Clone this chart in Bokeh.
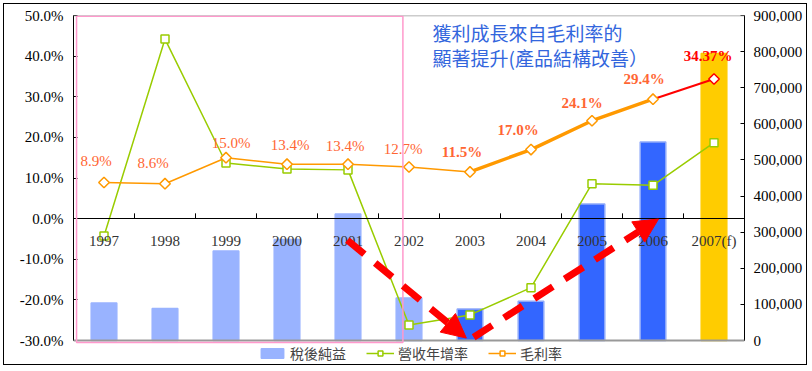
import numpy as np
from bokeh.plotting import figure
from bokeh.models import (FactorRange, Range1d, LinearAxis, FixedTicker, NumeralTickFormatter,
                          PrintfTickFormatter, ColumnDataSource, Legend, LegendItem,
                          BoxAnnotation, Label, Arrow, NormalHead, Span)
from bokeh.transform import dodge
from bokeh.core.properties import value
from bokeh.embed import file_html
from bokeh.resources import INLINE

# ---------------- data ----------------
years = ["1997", "1998", "1999", "2000", "2001", "2002", "2003", "2004", "2005", "2006", "2007(f)"]
net_income = [104000, 88500, 248000, 280000, 350000, 118000, 87000, 109000, 378000, 550000, 795000]
revenue_growth = [-4.3, 44.2, 13.7, 12.2, 12.0, -26.2, -23.7, -17.0, 8.6, 8.2, 18.7]
gross_margin = [8.9, 8.6, 15.0, 13.4, 13.4, 12.7, 11.5, 17.0, 24.1, 29.4, 34.37]
margin_labels = ["8.9%", "8.6%", "15.0%", "13.4%", "13.4%", "12.7%", "11.5%", "17.0%", "24.1%", "29.4%", "34.37%"]
left_ticks = [-30, -20, -10, 0, 10, 20, 30, 40, 50]
right_ticks = [0, 100000, 200000, 300000, 400000, 500000, 600000, 700000, 800000, 900000]
series_names = ["稅後純益", "營收年增率", "毛利率"]
title_lines = ["獲利成長來自毛利率的", "顯著提升(產品結構改善）"]

# ---------------- styles ----------------
LIGHT = "#99B3FF"
DARK = "#3366FF"
GOLD = "#FFCC00"
bar_fill = [LIGHT] * 6 + [DARK] * 4 + [GOLD]
bar_edge = [LIGHT] * 6 + ["#8FA9FA"] * 4 + [GOLD]
GREEN = "#99CC00"
ORANGE = "#FF9900"
LABEL_C = "#FF6633"
label_dx = [-8, -12, 5, 3, -3, -6, -8, -13, -10, -9, -6]
label_dy = [-21, -21, -15, -19, -18, -18, -20, -20, -18, -20, -23]
SERIF = "Liberation Serif"
CJK = "Noto Sans CJK TC"

# the frame is extended below the -30% line to hold the legend
L_MIN, L_MAX = -30, 50
R_MIN, R_MAX = 0, 900000
PAD_PX = 26
PLOT_PX = 325
l_pad = (L_MAX - L_MIN) * PAD_PX / PLOT_PX
r_pad = (R_MAX - R_MIN) * PAD_PX / PLOT_PX

p = figure(x_range=FactorRange(*years), y_range=Range1d(L_MIN - l_pad, L_MAX),
           width=804, height=362, output_backend="svg", toolbar_location=None,
           min_border_left=69, min_border_right=64, min_border_top=11, min_border_bottom=0)
p.extra_y_ranges = {"r": Range1d(R_MIN - r_pad, R_MAX)}
p.xgrid.visible = False
p.ygrid.visible = False
p.outline_line_color = None
p.styles = {"border": "1px solid black", "margin": "3px"}

# x axis at 0%
xa = p.xaxis[0]
xa.fixed_location = 0
xa.major_tick_line_color = None
xa.minor_tick_line_color = None
xa.axis_line_color = "black"
xa.major_label_text_font = SERIF
xa.major_label_text_font_size = "15px"
xa.major_label_text_color = "#333333"
xa.major_label_standoff = 8

# left axis
ya = p.yaxis[0]
ya.bounds = (L_MIN, L_MAX)
ya.ticker = FixedTicker(ticks=left_ticks)
ya.formatter = PrintfTickFormatter(format="%.1f%%")
ya.major_tick_in = 4
ya.major_tick_out = 0
ya.minor_tick_line_color = None
ya.axis_line_color = "black"
ya.major_label_text_font = SERIF
ya.major_label_text_font_size = "15px"
ya.major_label_text_color = "black"
ya.major_label_standoff = 10

# right axis
ra = LinearAxis(y_range_name="r", ticker=FixedTicker(ticks=right_ticks),
                formatter=NumeralTickFormatter(format="0,0"), bounds=(R_MIN, R_MAX))
ra.major_tick_in = 4
ra.major_tick_out = 0
ra.minor_tick_line_color = None
ra.axis_line_color = "black"
ra.major_label_text_font = SERIF
ra.major_label_text_font_size = "15px"
ra.major_label_text_color = "black"
ra.major_label_standoff = 9
p.add_layout(ra, "right")

# plot-area border lines (top / bottom)
p.add_layout(Span(location=L_MAX, dimension="width", line_color="#999999", line_width=1.5))
p.add_layout(Span(location=L_MIN, dimension="width", line_color="#999999", line_width=2))

src = ColumnDataSource(dict(year=years, net=net_income, growth=revenue_growth,
                            margin=gross_margin, lab=margin_labels,
                            fill=bar_fill, edge=bar_edge, dx=label_dx, dy=label_dy,
                            dline=[ORANGE] * 10 + ["#FF0000"]))

# bars
bars = p.vbar(x="year", top="net", width=0.42, y_range_name="r", source=src,
              fill_color="fill", line_color="edge", line_width=1.5)

# tick marks between categories
tsrc = ColumnDataSource(dict(year=years[:-1], y0=[0] * 10, y1=[1.3] * 10))
p.segment(x0=dodge("year", 0.5, range=p.x_range), y0="y0",
          x1=dodge("year", 0.5, range=p.x_range), y1="y1",
          source=tsrc, line_color="black", line_width=1)

# pink highlight box
p.add_layout(BoxAnnotation(left=0.05, right=5.40, top=49.8, bottom=-30.5,
                           fill_alpha=0, line_color="#FF99CC", line_alpha=1.0,
                           line_width=1.5))

# revenue growth
gline = p.line(x=years, y=revenue_growth, line_color=GREEN, line_width=1.5)
gsq = p.scatter(x=years, y=revenue_growth, marker="square", size=8,
                fill_color="white", line_color=GREEN, line_width=1.5)

# gross margin
o1 = p.line(x=years[:7], y=gross_margin[:7], line_color=ORANGE, line_width=1.5)
o2 = p.line(x=years[6:10], y=gross_margin[6:10], line_color=ORANGE, line_width=3.5)
o3 = p.line(x=years[9:], y=gross_margin[9:], line_color="#FF0000", line_width=2)
od = p.scatter(x="year", y="margin", source=src, marker="square", angle=np.pi / 4,
               size=7.5, fill_color="white", line_color="dline", line_width=1.5)

# margin labels
s1 = ColumnDataSource(dict(x=years[:6], y=gross_margin[:6], t=margin_labels[:6],
                           dx=label_dx[:6], dy=label_dy[:6]))
s2 = ColumnDataSource(dict(x=years[6:10], y=gross_margin[6:10], t=margin_labels[6:10],
                           dx=label_dx[6:10], dy=label_dy[6:10]))
s3 = ColumnDataSource(dict(x=years[10:], y=gross_margin[10:], t=margin_labels[10:],
                           dx=label_dx[10:], dy=label_dy[10:]))
p.text(x="x", y="y", text="t", x_offset="dx", y_offset="dy", source=s1,
       text_font=value(SERIF), text_font_size="15px", text_color=LABEL_C,
       text_align="center", text_baseline="middle")
p.text(x="x", y="y", text="t", x_offset="dx", y_offset="dy", source=s2,
       text_font=value(SERIF), text_font_size="15px", text_color=LABEL_C,
       text_font_style="bold", text_align="center", text_baseline="middle")
p.text(x="x", y="y", text="t", x_offset="dx", y_offset="dy", source=s3,
       text_font=value(SERIF), text_font_size="15px", text_color="#FF0000",
       text_font_style="bold", text_align="center", text_baseline="middle")

# red dashed arrows
p.add_layout(Arrow(x_start=4.49, y_start=-5.3, x_end=6.44, y_end=-29.4,
                   line_color="#FF0000", line_width=7, line_dash="22 14",
                   end=NormalHead(size=24, fill_color="#FF0000", line_color="#FF0000")))
p.add_layout(Arrow(x_start=6.56, y_start=-29.2, x_end=9.59, y_end=-0.1,
                   line_color="#FF0000", line_width=7, line_dash="22 14",
                   end=NormalHead(size=24, fill_color="#FF0000", line_color="#FF0000")))

# title annotation
for i, t in enumerate(title_lines):
    p.add_layout(Label(x=359, y=334 - 25 * i, x_units="screen", y_units="screen", text=t,
                       text_font=CJK, text_font_size="19px", text_color="#3366DD",
                       text_baseline="middle", text_align="left"))

legend = Legend(items=[LegendItem(label=series_names[0], renderers=[bars], index=0),
                       LegendItem(label=series_names[1], renderers=[gline, gsq]),
                       LegendItem(label=series_names[2], renderers=[o1, od], index=0)],
                location=(185, 3), orientation="horizontal",
                label_text_font=CJK, label_text_font_size="14px",
                glyph_width=28, glyph_height=12, spacing=20, padding=0, margin=0,
                label_standoff=4, border_line_color=None, background_fill_alpha=0)
p.add_layout(legend)

open("out.html", "w").write(file_html(p, INLINE))
